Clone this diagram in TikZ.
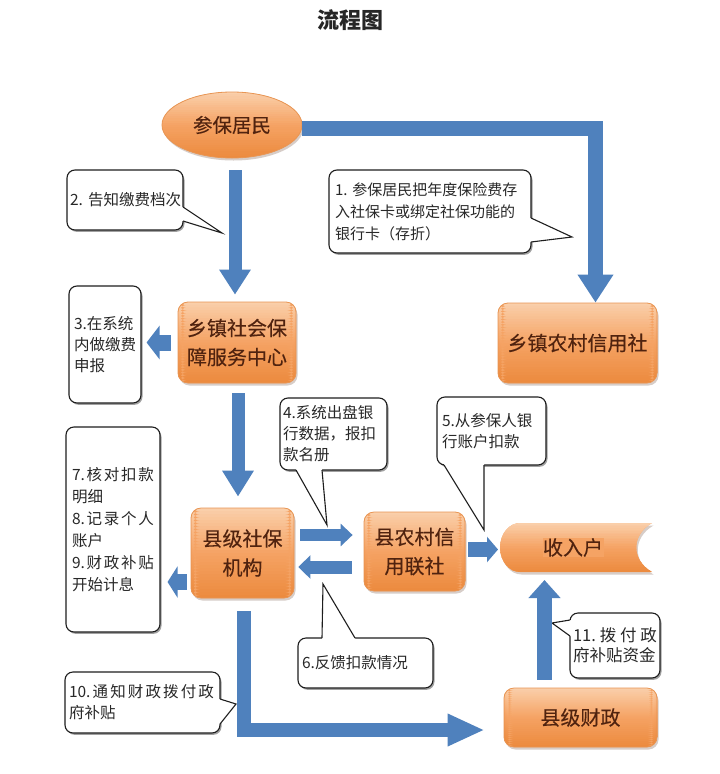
\documentclass[tikz,border=0pt]{standalone}
\usepackage{fontspec}
\setmainfont{Noto Sans CJK SC}
\newfontfamily\boxfont[FakeBold=0.25]{Noto Sans CJK SC}
\usetikzlibrary{arrows.meta,calc,shapes.geometric}

\definecolor{ablue}{RGB}{79,129,189}
\definecolor{otop}{RGB}{250,208,172}
\definecolor{omid}{RGB}{245,163,100}
\definecolor{obot}{RGB}{236,138,62}
\definecolor{oline}{RGB}{232,150,85}
\definecolor{otext}{RGB}{80,35,15}
\definecolor{cline}{RGB}{30,30,30}
\definecolor{ctext}{RGB}{40,40,40}
\definecolor{oshad}{RGB}{215,205,200}
\definecolor{cshad}{RGB}{160,160,160}

\newcommand\gradstrips{%
  \foreach \k in {0,...,29}{%
    \pgfmathsetmacro\fa{\k/30}%
    \pgfmathsetmacro\fb{(\k+1)/30+0.01}%
    \pgfmathsetmacro\s{\k<15 ? (\k+0.5)/15*100 : (\k-14.5)/15*100}%
    \ifnum\k<15 \colorlet{stripc}{omid!\s!otop}\else\colorlet{stripc}{obot!\s!omid}\fi
    \fill[stripc] ($(path picture bounding box.north west)!\fa!(path picture bounding box.south west)$)
      rectangle ($(path picture bounding box.north east)!\fb!(path picture bounding box.south east)$);
  }}

\begin{document}
\begin{tikzpicture}[x=1pt,y=-1pt,
  ograd/.style={fill=omid,path picture={\gradstrips}},
  obox/.style={rectangle,rounded corners=10pt,draw=oline,line width=0.8pt,ograd,
    text=otext,font=\boxfont\fontsize{20}{29}\selectfont,align=center,inner sep=0pt},
  cbox/.style={rectangle,rounded corners=8pt,draw=cline,line width=1.1pt,fill=white,
    text=ctext,font=\fontsize{15.5}{21}\selectfont,align=left,inner sep=0pt},
  tailline/.style={draw=cline,line width=1.1pt,line join=miter},
  barrow/.style={draw=ablue,line join=miter},
]
\useasboundingbox (0,0) rectangle (720,774);
\fill[white] (0,0) rectangle (720,774);

% title
\node[text=black!85,font=\fontsize{22}{26}\selectfont\bfseries] (title) at (350,20) {流程图};

% shadows of the orange shapes
\fill[oshad] (233.5,127.5) ellipse [x radius=70, y radius=33];
\foreach \a/\b/\c/\d in {178/302/296/383, 498/303/657/383, 191/508/294/598, 364/512/465/591, 504/688/657/747}{
  \fill[oshad,rounded corners=10pt] (\a+1.5,\b+2.5) rectangle (\c+1.5,\d+2.5);
}
\fill[oshad,shift={(1.5,2.5)}]
  (520,523) -- (652,523) .. controls (631,535) and (631,560) .. (652,572)
  -- (520,572) .. controls (509,572) and (500,561) .. (500,547.5)
  .. controls (500,534) and (509,523) .. (520,523) -- cycle;
% stored-data shape
\path[ograd]
  (520,523) -- (652,523) .. controls (631,535) and (631,560) .. (652,572)
  -- (520,572) .. controls (509,572) and (500,561) .. (500,547.5)
  .. controls (500,534) and (509,523) .. (520,523) -- cycle;

% callout shadows
\foreach \a/\b/\c/\d in {329/170/531/253, 67/170/183/230, 69/286/141/403, 280/398/387/470,
  437/397/546/465, 298/638/433/688, 66/427/160/632, 65/672/220/733, 570/613/660/678}{
  \fill[cshad,rounded corners=8pt] (\a+1.5,\b+1.8) rectangle (\c+1.5,\d+1.8);
}

% main nodes
\node[ellipse,draw=oline,line width=0.8pt,ograd,text=otext,
  font=\boxfont\fontsize{19.5}{24}\selectfont,minimum width=140pt,minimum height=66pt,inner sep=0pt]
  (p) at (232,125) {参保居民};
\node[obox,minimum width=118pt,minimum height=81pt] (t) at (237,342.5) {乡镇社会保\\障服务中心};
\node[obox,minimum width=159pt,minimum height=80pt] (c) at (577.5,343) {乡镇农村信用社};
\node[obox,minimum width=103pt,minimum height=90pt] (s) at (242.5,553) {县级社保\\机构};
\node[obox,minimum width=101pt,minimum height=79pt] (u) at (414.5,551.5) {县农村信\\用联社};
\node[obox,minimum width=153pt,minimum height=59pt] (f) at (580.5,717.5) {县级财政};
\node[text=otext,fill=omid,font=\boxfont\fontsize{20}{24}\selectfont,inner sep=0.5pt]
  (rt) at (573,547.5) {收入户};
\coordinate (rw) at (500,547.5);
\coordinate (rs) at (576,572);

% callouts
\node[cbox,font=\fontsize{15}{22}\selectfont,minimum width=202pt,minimum height=83pt,text width=190pt] (n1) at (430,211.5)
  {1.~参保居民把年度保险费存\\入社保卡或绑定社保功能的\\银行卡（存折）};
\fill[white] (527,218) -- (531,218) -- (572,237) -- (531,242) -- (527,242) -- cycle;
\draw[tailline] (531,218) -- (572,237) -- (531,242);

\node[cbox,minimum width=116pt,minimum height=60pt,text width=110pt] (n2) at (125,200)
  {2.~告知缴费档次};
\fill[white] (179,207) -- (183,207) -- (222,233) -- (183,221) -- (179,221) -- cycle;
\draw[tailline] (183,207) -- (222,233) -- (183,221);

\node[cbox,minimum width=72pt,minimum height=117pt,text width=62pt] (n3) at (105,344.5)
  {3.在系统\\内做缴费\\申报};

\node[cbox,minimum width=107pt,minimum height=72pt,text width=101pt] (n4) at (333.5,434)
  {4.系统出盘银\\行数据，报扣\\款名册};
\fill[white] (296,466) -- (296,470) -- (327,525) -- (322,470) -- (322,466) -- cycle;
\draw[tailline] (296,470) -- (327,525) -- (322,470);

\node[cbox,minimum width=109pt,minimum height=68pt,text width=99pt] (n5) at (491.5,431)
  {5.从参保人银\\行账户扣款};
\fill[white] (444,461) -- (444,465) -- (484,530) -- (484,465) -- (484,461) -- cycle;
\draw[tailline] (444,465) -- (484,530) -- (484,465);

\node[cbox,minimum width=135pt,minimum height=50pt,text width=127pt] (n6) at (365.5,663)
  {6.反馈扣款情况};
\fill[white] (322,642) -- (322,638) -- (323,584) -- (355,638) -- (355,642) -- cycle;
\draw[tailline] (322,638) -- (323,584) -- (355,638);

\node[cbox,font=\fontsize{15.5}{22}\selectfont,minimum width=94pt,minimum height=205pt,text width=82pt] (n79) at (113,529.5)
  {\makebox[82pt][s]{7.\hfil 核\hfil 对\hfil 扣\hfil 款}\\明细\\
   \makebox[82pt][s]{8.\hfil 记\hfil 录\hfil 个\hfil 人}\\账户\\
   \makebox[82pt][s]{9.\hfil 财\hfil 政\hfil 补\hfil 贴}\\开始计息};

\node[cbox,minimum width=155pt,minimum height=61pt,text width=147pt] (n10) at (142.5,702.5)
  {\makebox[145pt][s]{10.\hfil 通\hfil 知\hfil 财\hfil 政\hfil 拨\hfil 付\hfil 政}\\府补贴};
\fill[white] (216,699) -- (220,699) -- (236,704) -- (220,724) -- (216,724) -- cycle;
\draw[tailline] (220,699) -- (236,704) -- (220,724);

\node[cbox,font=\fontsize{16.5}{20}\selectfont,minimum width=90pt,minimum height=65pt,text width=84pt] (n11) at (615,645.5)
  {\makebox[84pt][s]{11.\hfil 拨\hfil 付\hfil 政}\\府补贴资金};
\fill[white] (574,620) -- (570,620) -- (552,623) -- (570,636) -- (574,636) -- cycle;
\draw[tailline] (570,620) -- (552,623) -- (570,636);

% arrows
\draw[barrow,line width=15pt,-{Triangle[width=34pt,length=28pt]}]
  ([yshift=-3.5pt]p.east) -| ([xshift=18pt]c.north);
\draw[barrow,line width=13pt,-{Triangle[width=30pt,length=25pt]}]
  ([xshift=3pt,yshift=-12pt]p.south) -- ([xshift=-2pt,yshift=7pt]t.north);
\draw[barrow,line width=16pt,-{Triangle[width=33pt,length=13pt]}]
  ([xshift=-7pt]t.west) -- ($(t.west -| n3.east)+(5,0)$);
\draw[barrow,line width=13pt,-{Triangle[width=30pt,length=26pt]}]
  ([xshift=1pt,yshift=-10pt]t.south) -- ([xshift=-4.5pt,yshift=11pt]s.north);
\draw[barrow,line width=12pt,-{Triangle[width=22pt,length=12pt]}]
  ($(s.east)+(6,-18)$) -- ($(s.east -| u.west)+(-11,-18)$);
\draw[barrow,line width=13pt,-{Triangle[width=23pt,length=12pt]}]
  ($(s.east -| u.west)+(-12,14)$) -- ($(s.east)+(4,14)$);
\draw[barrow,line width=15pt,-{Triangle[width=25pt,length=11pt]}]
  ($(u.east)+(3,-2)$) -- ($(u.east -| rw)+(-2,-2)$);
\draw[barrow,line width=16pt,-{Triangle[width=31pt,length=10pt]}]
  ($(s.west)+(-4,29)$) -- ($(s.west -| n79.east)+(7,29)$);
\draw[barrow,line width=14pt,-{Triangle[width=30pt,length=37pt]}]
  ([xshift=1.5pt,yshift=-13pt]s.south) |- ($(f.west)+(-19,12.5)$);
\draw[barrow,line width=15pt,-{Triangle[width=31pt,length=18pt]}]
  ([xshift=-36pt,yshift=8pt]f.north) -- ([xshift=-31.5pt,yshift=-8pt]rs);
\end{tikzpicture}
\end{document}
